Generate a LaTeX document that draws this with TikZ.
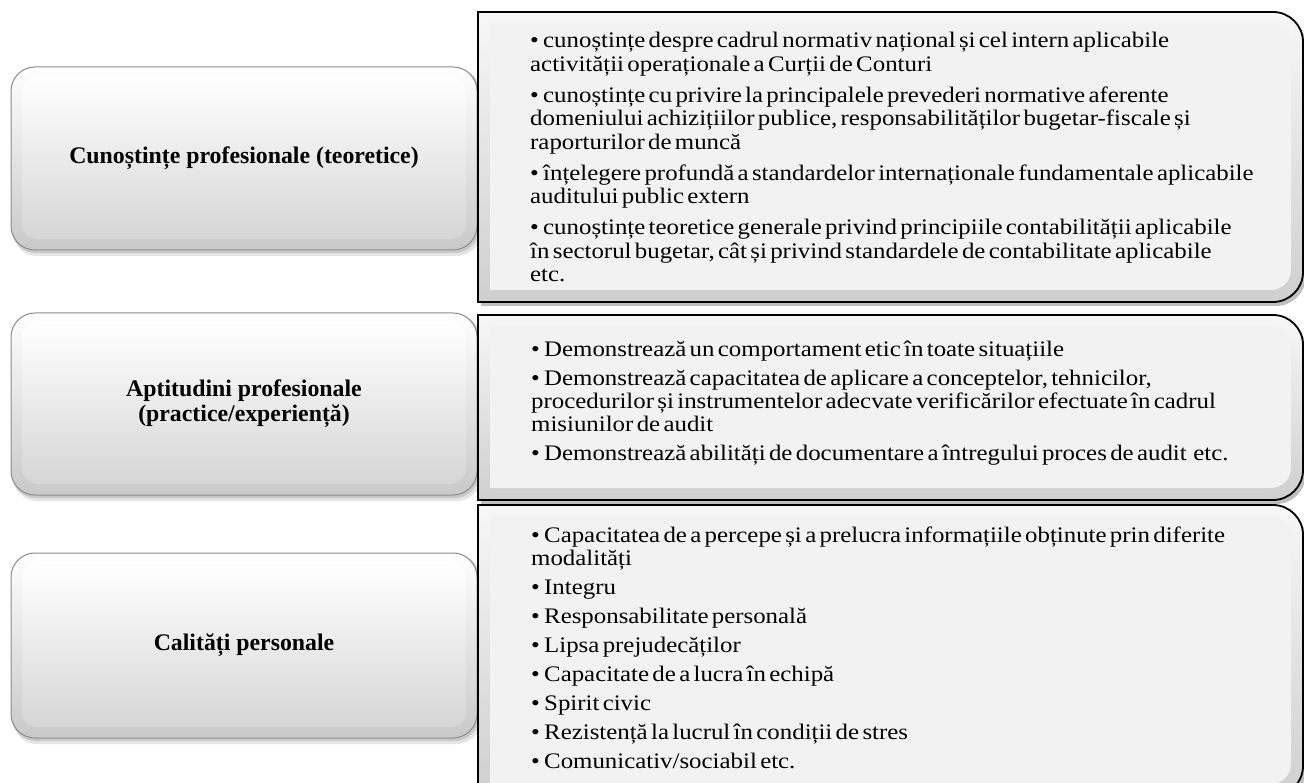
\documentclass[tikz,border=0pt]{standalone}
\usepackage{fontspec}
\setmainfont{Liberation Serif}
\newfontfamily\rtfont[FakeStretch=1.12]{Liberation Serif}
\usetikzlibrary{calc}
\definecolor{rbin}{HTML}{F2F2F2}
\definecolor{rbtop}{HTML}{F7F7F7}
\definecolor{rbbot}{HTML}{CFCFCF}
\definecolor{lbbot}{HTML}{C9C9C9}
\definecolor{lbinbot}{HTML}{D6D6D6}
\definecolor{lbdraw}{HTML}{8C8C8C}
% right box shape: square left corners, rounded right corners
\newcommand\RBox[6]{%
  \path[#6] (#1,#2) -- ({#3-#5},#2) .. controls ({#3-0.45*#5},#2) and (#3,{#2+0.45*#5}) .. (#3,{#2+#5})
    -- (#3,{#4-#5}) .. controls (#3,{#4-0.45*#5}) and ({#3-0.45*#5},#4) .. ({#3-#5},#4) -- (#1,#4) -- cycle;}
\newcommand\LeftBox[4]{%
  \fill[black,opacity=0.10,rounded corners=24pt] (13,{#2+2}) rectangle (481,{#3+6});
  \fill[black,opacity=0.12,rounded corners=24pt] (12,{#2+1}) rectangle (479,{#3+3});
  \path[draw=lbdraw,line width=1pt,top color=white,bottom color=lbbot,rounded corners=24pt] (11,#2) rectangle (477,#3);
  \path[top color=white,bottom color=lbinbot,rounded corners=16pt] (22,{#2+9}) rectangle (466,{#3-11});
  \node[lefttext] (#1) at (244,{(#2+#3)/2}) {#4};}
\newcommand\Itm[1]{\hangindent=13pt\hangafter=1\noindent\makebox[13pt][l]{•}#1\par}
\tikzset{
  lefttext/.style={font=\bfseries\fontsize{23.8}{25}\selectfont,align=center,inner sep=0pt},
  righttext/.style={anchor=base west,inner sep=0pt,text width=770pt},
}
\begin{document}
\begin{tikzpicture}[x=1pt,y=-1pt]
\useasboundingbox (0,0) rectangle (1304,783);
\fill[white] (0,0) rectangle (1304,783);
% left boxes
\LeftBox{L1}{67}{250}{Cunoștințe profesionale (teoretice)}
\LeftBox{L2}{313}{495}{Aptitudini profesionale\\(practice/experiență)}
\LeftBox{L3}{553}{738}{Calități personale}
% right boxes (shapes)
\RBox{481}{16}{1306}{306}{30}{fill=black,opacity=0.25}
\RBox{478}{12}{1303}{302}{30}{draw=black,line width=1.8pt,top color=rbtop,bottom color=rbbot}
\RBox{490}{23}{1291}{290}{20}{fill=rbin}
\RBox{481}{319}{1306}{504}{30}{fill=black,opacity=0.25}
\RBox{478}{315}{1303}{500}{30}{draw=black,line width=1.8pt,top color=rbtop,bottom color=rbbot}
\RBox{490}{326}{1291}{488}{20}{fill=rbin}
\RBox{481}{509}{1306}{800}{30}{fill=black,opacity=0.25}
\RBox{478}{505}{1303}{796}{30}{draw=black,line width=1.8pt,top color=rbtop,bottom color=rbbot}
\RBox{490}{516}{1291}{784}{20}{fill=rbin}
% right texts
\node[righttext] (R1) at (530,48) {\rtfont\fontsize{22.2}{23.5}\selectfont\raggedright\parskip=7.5pt
\Itm{cunoștințe despre cadrul normativ național și cel intern aplicabile\\activității operaționale a Curții de Conturi}
\Itm{cunoștințe cu privire la principalele prevederi normative aferente\\domeniului achizițiilor publice, responsabilităților bugetar-fiscale și\\raporturilor de muncă}
\Itm{înțelegere profundă a standardelor internaționale fundamentale aplicabile\\auditului public extern}
\Itm{cunoștințe teoretice generale privind principiile contabilității aplicabile\\în sectorul bugetar, cât și privind standardele de contabilitate aplicabile\\etc.}};
\node[righttext] (R2) at (531,357) {\rtfont\fontsize{22.2}{23}\selectfont\raggedright\parskip=6pt
\Itm{Demonstrează un comportament etic în toate situațiile}
\Itm{Demonstrează capacitatea de aplicare a conceptelor, tehnicilor,\\procedurilor și instrumentelor adecvate verificărilor efectuate în cadrul\\misiunilor de audit}
\Itm{Demonstrează abilități de documentare a întregului proces de audit\ \ etc.}};
\node[righttext] (R3) at (531,542) {\rtfont\fontsize{22.2}{23}\selectfont\raggedright\parskip=6pt
\Itm{Capacitatea de a percepe și a prelucra informațiile obținute prin diferite\\modalități}
\Itm{Integru}
\Itm{Responsabilitate personală}
\Itm{Lipsa prejudecăților}
\Itm{Capacitate de a lucra în echipă}
\Itm{Spirit civic}
\Itm{Rezistență la lucrul în condiții de stres}
\Itm{Comunicativ/sociabil etc.}};
\end{tikzpicture}
\end{document}
